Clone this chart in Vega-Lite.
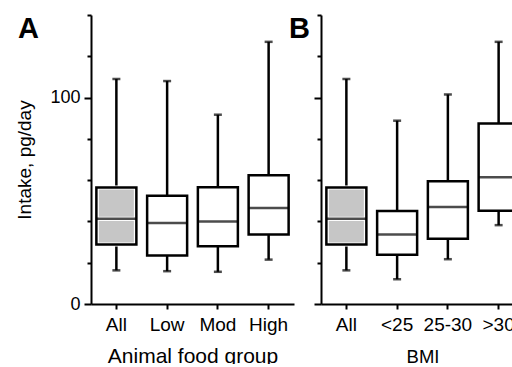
{
  "$schema": "https://vega.github.io/schema/vega-lite/v6.json",
  "padding": {"left": 15, "top": 14, "right": -11, "bottom": -2},
  "bounds": "flush",
  "spacing": 27,
  "background": "white",
  "config": {
    "view": {"stroke": null},
    "axis": {
      "domainColor": "black", "domainWidth": 2, "tickColor": "black", "tickWidth": 2,
      "labelColor": "black", "titleColor": "black", "grid": false,
      "labelFont": "Liberation Sans", "titleFont": "Liberation Sans", "titleFontWeight": "normal"
    },
    "title": {"font": "Liberation Sans", "fontWeight": "bold", "fontSize": 29, "color": "black", "anchor": "start", "frame": "group", "baseline": "alphabetic", "offset": 0}
  },
  "datasets": {
    "food": [
      {"group": "All", "lo": 16.3, "q1": 28.8, "med": 41.3, "q3": 56.4, "hi": 109},
      {"group": "Low", "lo": 15.9, "q1": 23.5, "med": 39.2, "q3": 52.5, "hi": 108},
      {"group": "Mod", "lo": 15.6, "q1": 28.0, "med": 40.0, "q3": 56.6, "hi": 91.7},
      {"group": "High", "lo": 21.5, "q1": 33.7, "med": 46.5, "q3": 62.4, "hi": 127}
    ],
    "bmi": [
      {"group": "All", "lo": 16.3, "q1": 28.8, "med": 41.3, "q3": 56.4, "hi": 109},
      {"group": "<25", "lo": 12.0, "q1": 23.8, "med": 33.7, "q3": 45.0, "hi": 88.8},
      {"group": "25-30", "lo": 21.7, "q1": 31.6, "med": 47.0, "q3": 59.5, "hi": 101.5},
      {"group": ">30", "lo": 38.2, "q1": 45.2, "med": 61.4, "q3": 87.5, "hi": 127}
    ]
  },
  "hconcat": [
    {
      "width": 203, "height": 289,
      "title": {"text": "A", "dx": -73, "dy": 34},
      "data": {"name": "food"},
      "encoding": {
        "x": {"field": "group", "type": "nominal", "sort": null,
          "scale": {"paddingInner": 0, "paddingOuter": 0},
          "axis": {"title": "Animal food group", "labelAngle": 0, "labelFontSize": 19, "tickSize": 5, "labelPadding": 6, "titleFontSize": 21, "titlePadding": 11}}
      },
      "layer": [
        {"mark": {"type": "rule", "color": "black", "strokeWidth": 2.5},
         "encoding": {"y": {"field": "lo", "type": "quantitative", "scale": {"domain": [0, 140], "nice": false},
            "axis": {"title": "Intake, pg/day", "titleFontSize": 19, "titlePadding": 15, "values": [0,10,20,30,40,50,60,70,80,90,100,110,120,130,140],
              "labelExpr": "datum.value % 50 === 0 ? datum.label : ''", "labelFontSize": 18, "labelPadding": 4,
              "tickSize": {"condition": {"test": "datum.value % 50 === 0", "value": 7}, "value": 4}}},
           "y2": {"field": "hi"}}},
        {"mark": {"type": "tick", "color": "black", "size": 8, "thickness": 2.5}, "encoding": {"y": {"field": "lo", "type": "quantitative"}}},
        {"mark": {"type": "tick", "color": "black", "size": 8, "thickness": 2.5}, "encoding": {"y": {"field": "hi", "type": "quantitative"}}},
        {"mark": {"type": "bar", "fill": "white", "size": 40}, "encoding": {"y": {"field": "q1", "type": "quantitative"}, "y2": {"field": "q3"}}},
        {"transform": [{"filter": "datum.group === 'All'"}],
         "mark": {"type": "bar", "fill": "#c6c6c6", "stroke": "white", "strokeWidth": 4, "size": 39}, "encoding": {"y": {"field": "q1", "type": "quantitative"}, "y2": {"field": "med"}}},
        {"transform": [{"filter": "datum.group === 'All'"}],
         "mark": {"type": "bar", "fill": "#c6c6c6", "stroke": "white", "strokeWidth": 4, "size": 39}, "encoding": {"y": {"field": "med", "type": "quantitative"}, "y2": {"field": "q3"}}},
        {"mark": {"type": "bar", "fill": null, "fillOpacity": 0, "stroke": "black", "strokeWidth": 2.5, "size": 40}, "encoding": {"y": {"field": "q1", "type": "quantitative"}, "y2": {"field": "q3"}}},
        {"mark": {"type": "tick", "color": "black", "size": 41, "thickness": 2.5}, "encoding": {"y": {"field": "med", "type": "quantitative"}}}
      ]
    },
    {
      "width": 203, "height": 289,
      "title": {"text": "B", "dx": -32, "dy": 34},
      "data": {"name": "bmi"},
      "encoding": {
        "x": {"field": "group", "type": "nominal", "sort": null,
          "scale": {"paddingInner": 0, "paddingOuter": 0},
          "axis": {"title": "BMI", "labelAngle": 0, "labelFontSize": 19, "tickSize": 5, "labelPadding": 6, "titleFontSize": 18.5, "titlePadding": 13}}
      },
      "layer": [
        {"mark": {"type": "rule", "color": "black", "strokeWidth": 2.5},
         "encoding": {"y": {"field": "lo", "type": "quantitative", "scale": {"domain": [0, 140], "nice": false},
            "axis": {"title": null, "values": [0,10,20,30,40,50,60,70,80,90,100,110,120,130,140], "labels": false,
              "tickSize": {"condition": {"test": "datum.value % 50 === 0", "value": 7}, "value": 4}}},
           "y2": {"field": "hi"}}},
        {"mark": {"type": "tick", "color": "black", "size": 8, "thickness": 2.5}, "encoding": {"y": {"field": "lo", "type": "quantitative"}}},
        {"mark": {"type": "tick", "color": "black", "size": 8, "thickness": 2.5}, "encoding": {"y": {"field": "hi", "type": "quantitative"}}},
        {"mark": {"type": "bar", "fill": "white", "size": 40}, "encoding": {"y": {"field": "q1", "type": "quantitative"}, "y2": {"field": "q3"}}},
        {"transform": [{"filter": "datum.group === 'All'"}],
         "mark": {"type": "bar", "fill": "#c6c6c6", "stroke": "white", "strokeWidth": 4, "size": 39}, "encoding": {"y": {"field": "q1", "type": "quantitative"}, "y2": {"field": "med"}}},
        {"transform": [{"filter": "datum.group === 'All'"}],
         "mark": {"type": "bar", "fill": "#c6c6c6", "stroke": "white", "strokeWidth": 4, "size": 39}, "encoding": {"y": {"field": "med", "type": "quantitative"}, "y2": {"field": "q3"}}},
        {"mark": {"type": "bar", "fill": null, "fillOpacity": 0, "stroke": "black", "strokeWidth": 2.5, "size": 40}, "encoding": {"y": {"field": "q1", "type": "quantitative"}, "y2": {"field": "q3"}}},
        {"mark": {"type": "tick", "color": "black", "size": 41, "thickness": 2.5}, "encoding": {"y": {"field": "med", "type": "quantitative"}}}
      ]
    }
  ]
}
